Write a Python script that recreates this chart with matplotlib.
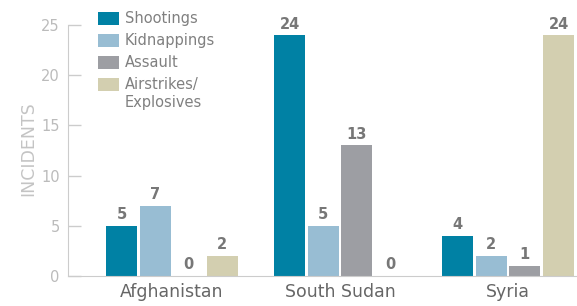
import matplotlib
matplotlib.use("Agg")
import matplotlib.pyplot as plt
import numpy as np
from matplotlib.patches import Rectangle

plt.rcParams['font.family'] = ['DejaVu Sans']

countries = ["Afghanistan", "South Sudan", "Syria"]
series_names = ["Shootings", "Kidnappings", "Assault", "Airstrikes/\nExplosives"]
shootings = [5, 24, 4]
kidnappings = [7, 5, 2]
assault = [0, 13, 1]
airstrikes = [2, 0, 24]
colors = ["#0081A4", "#98BDD3", "#9D9EA3", "#D3CFB0"]
yticks = [0, 5, 10, 15, 20, 25]

series = [shootings, kidnappings, assault, airstrikes]

W, H = 577, 306
fig = plt.figure(figsize=(W/100, H/100), dpi=100)
ax = fig.add_axes([68/W, 1-276/H, 1-68/W, (276-25)/H])

x = np.arange(len(countries))
offsets = [-1.5, -0.5, 0.5, 1.5]
step = 0.2
width = 0.185
for vals, col, off in zip(series, colors, offsets):
    bars = ax.bar(x + off*step, vals, width=width, color=col, zorder=2)
    for b, v in zip(bars, vals):
        ax.text(b.get_x() + b.get_width()/2, v + 0.35, str(v), ha='center', va='bottom',
                fontsize=10.5, fontweight='bold', color='#777777', clip_on=False)

ax.set_xlim(-0.619, 0.41 + 2)
ax.set_ylim(0, 25)
ax.set_yticks(yticks)
ax.set_yticklabels([str(t) for t in yticks], fontsize=10.5, color='#BBBBBB')
ax.set_xticks(x)
ax.set_xticklabels(countries, fontsize=12.5, color='#666666')
ax.tick_params(axis='x', length=0, pad=5)
ax.tick_params(axis='y', direction='in', length=9.5, color='#CCCCCC', width=1, pad=6)
for s in ['top', 'right']:
    ax.spines[s].set_visible(False)
ax.spines['left'].set_color('#CCCCCC')
ax.spines['bottom'].set_color('#CCCCCC')
fig.text(28/W, 1-149/H, "INCIDENTS", rotation=90, ha='center', va='center',
         fontsize=12.5, color='#C4C4C4')

# legend (manual)
row_tops = [12, 34, 56, 78]
for name, col, top in zip(series_names, colors, row_tops):
    fig.patches.append(Rectangle((98/W, 1-(top+13)/H), 21/W, 13/H, transform=fig.transFigure,
                                 facecolor=col, edgecolor='none'))
    fig.text(125/W, 1-(top-1)/H, name, ha='left', va='top', fontsize=10.5,
             color='#808080', linespacing=1.25)

fig.savefig("out.png", dpi=100)
